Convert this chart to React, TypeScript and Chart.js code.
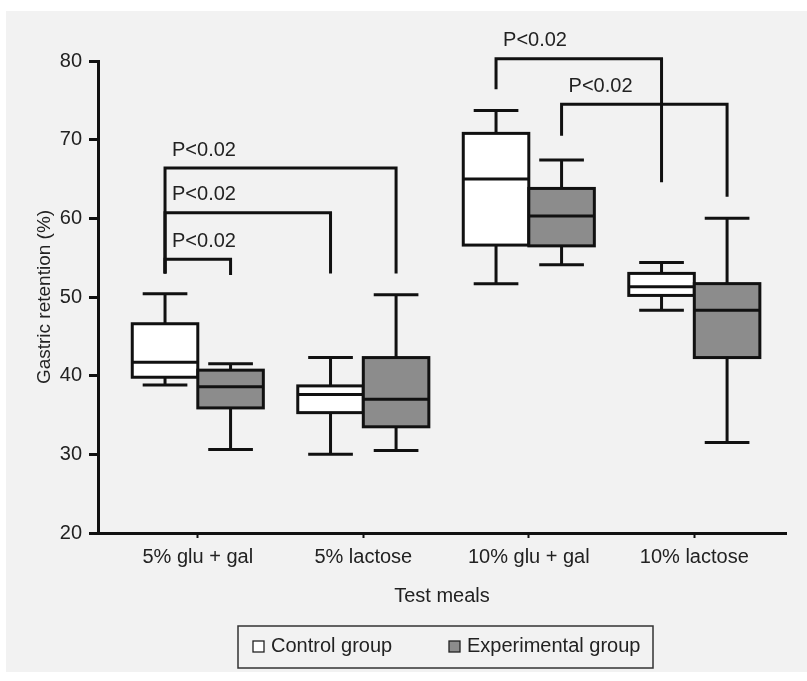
import React, { useEffect, useRef } from 'react';
import { Chart, registerables } from 'chart.js';

Chart.register(...registerables);

// ---------- data ----------
const categories = ['5% glu + gal', '5% lactose', '10% glu + gal', '10% lactose'];
const seriesNames = ['Control group', 'Experimental group'];
const yTickValues = [20, 30, 40, 50, 60, 70, 80];

const controlMin = [38.8, 30.0, 51.7, 48.3];
const controlQ1 = [39.8, 35.3, 56.6, 50.2];
const controlMedian = [41.7, 37.6, 65.0, 51.3];
const controlQ3 = [46.6, 38.7, 70.8, 53.0];
const controlMax = [50.4, 42.3, 73.7, 54.4];

const expMin = [30.6, 30.5, 54.1, 31.5];
const expQ1 = [35.9, 33.5, 56.5, 42.3];
const expMedian = [38.6, 37.0, 60.3, 48.3];
const expQ3 = [40.7, 42.3, 63.8, 51.7];
const expMax = [41.5, 50.3, 67.4, 60.0];

// significance brackets (group 0 = control, 1 = experimental)
const sigLabels = ['P<0.02', 'P<0.02', 'P<0.02', 'P<0.02', 'P<0.02'];
const sigLeftCat = [0, 0, 0, 2, 2];
const sigLeftGroup = [0, 0, 0, 0, 1];
const sigRightCat = [1, 1, 0, 3, 3];
const sigRightGroup = [1, 0, 1, 0, 1];
const sigLevel = [66.4, 60.7, 54.8, 80.3, 74.5];
const sigLeftEnd = [53.0, 53.0, 53.0, 76.4, 70.5];
const sigRightEnd = [53.0, 53.0, 52.8, 64.6, 62.75];

// ---------- style ----------
const FONT = "'Liberation Sans', Arial, sans-serif";
const TEXT = '#222222';
const LINE = '#111111';
const CONTROL_FILL = '#ffffff';
const EXP_FILL = '#8c8c8c';
const BOX_W = 0.396; // in category units
const CAP_HALF = 0.135;

const bgPlugin = {
  id: 'panelBg',
  beforeDraw(chart: any) {
    const { ctx, width, height } = chart;
    ctx.save();
    ctx.fillStyle = '#ffffff';
    ctx.fillRect(0, 0, width, height);
    ctx.fillStyle = '#f2f2f2';
    ctx.fillRect(6, 11, width - 6, height - 20);
    ctx.restore();
  },
};

function groupCenter(cat: number, group: number) {
  return cat + (group === 0 ? -BOX_W / 2 : BOX_W / 2);
}

const boxPlugin = {
  id: 'boxes',
  afterDraw(chart: any) {
    const { ctx } = chart;
    const xs = chart.scales.x;
    const ys = chart.scales.y;
    ctx.save();
    ctx.strokeStyle = LINE;
    ctx.lineWidth = 3;
    ctx.lineCap = 'butt';

    const drawBox = (c: number, mn: number, q1: number, md: number, q3: number, mx: number, fill: string) => {
      const l = xs.getPixelForValue(c - BOX_W / 2);
      const r = xs.getPixelForValue(c + BOX_W / 2);
      const cx = xs.getPixelForValue(c);
      const capL = xs.getPixelForValue(c - CAP_HALF);
      const capR = xs.getPixelForValue(c + CAP_HALF);
      const yMin = ys.getPixelForValue(mn);
      const yQ1 = ys.getPixelForValue(q1);
      const yMd = ys.getPixelForValue(md);
      const yQ3 = ys.getPixelForValue(q3);
      const yMax = ys.getPixelForValue(mx);
      ctx.beginPath();
      ctx.moveTo(cx, yQ3);
      ctx.lineTo(cx, yMax);
      ctx.moveTo(capL, yMax);
      ctx.lineTo(capR, yMax);
      ctx.moveTo(cx, yQ1);
      ctx.lineTo(cx, yMin);
      ctx.moveTo(capL, yMin);
      ctx.lineTo(capR, yMin);
      ctx.stroke();
      ctx.fillStyle = fill;
      ctx.fillRect(l, yQ3, r - l, yQ1 - yQ3);
      ctx.strokeRect(l, yQ3, r - l, yQ1 - yQ3);
      ctx.beginPath();
      ctx.moveTo(l, yMd);
      ctx.lineTo(r, yMd);
      ctx.stroke();
    };

    categories.forEach((_, i) => {
      drawBox(groupCenter(i, 0), controlMin[i], controlQ1[i], controlMedian[i], controlQ3[i], controlMax[i], CONTROL_FILL);
    });
    categories.forEach((_, i) => {
      drawBox(groupCenter(i, 1), expMin[i], expQ1[i], expMedian[i], expQ3[i], expMax[i], EXP_FILL);
    });

    ctx.font = `20px ${FONT}`;
    ctx.textAlign = 'left';
    ctx.textBaseline = 'middle';
    sigLabels.forEach((label, k) => {
      const lx = xs.getPixelForValue(groupCenter(sigLeftCat[k], sigLeftGroup[k]));
      const rx = xs.getPixelForValue(groupCenter(sigRightCat[k], sigRightGroup[k]));
      const yl = ys.getPixelForValue(sigLevel[k]);
      ctx.beginPath();
      ctx.moveTo(lx, ys.getPixelForValue(sigLeftEnd[k]));
      ctx.lineTo(lx, yl);
      ctx.lineTo(rx, yl);
      ctx.lineTo(rx, ys.getPixelForValue(sigRightEnd[k]));
      ctx.stroke();
      ctx.fillStyle = TEXT;
      ctx.fillText(label, lx + 7, yl - 18);
    });

    // legend
    const lgX = 238, lgY = 626, lgW = 415, lgH = 42;
    ctx.lineWidth = 1.5;
    ctx.strokeStyle = '#333333';
    ctx.strokeRect(lgX, lgY, lgW, lgH);
    const items = [
      { name: seriesNames[0], fill: CONTROL_FILL, sx: 253, tx: 271 },
      { name: seriesNames[1], fill: EXP_FILL, sx: 449, tx: 467 },
    ];
    items.forEach((it) => {
      ctx.fillStyle = it.fill;
      ctx.fillRect(it.sx, 641, 11, 11);
      ctx.lineWidth = 1.3;
      ctx.strokeStyle = '#222222';
      ctx.strokeRect(it.sx, 641, 11, 11);
      ctx.fillStyle = TEXT;
      ctx.font = `20px ${FONT}`;
      ctx.textBaseline = 'middle';
      ctx.fillText(it.name, it.tx, 646);
    });
    ctx.restore();
  },
};

export default function App() {
  const ref = useRef<HTMLCanvasElement | null>(null);
  useEffect(() => {
    if (!ref.current) return;
    const chart = new Chart(ref.current, {
      type: 'scatter',
      data: {
        datasets: [
          {
            label: seriesNames[0],
            data: controlMedian.map((v, i) => ({ x: groupCenter(i, 0), y: v })),
            pointRadius: 0,
            showLine: false,
          },
          {
            label: seriesNames[1],
            data: expMedian.map((v, i) => ({ x: groupCenter(i, 1), y: v })),
            pointRadius: 0,
            showLine: false,
          },
        ],
      },
      options: {
        animation: false,
        responsive: true,
        maintainAspectRatio: false,
        events: [],
        layout: { padding: { top: 61, right: 21, bottom: 0, left: 0 } },
        plugins: {
          legend: { display: false },
          tooltip: { enabled: false },
        },
        scales: {
          x: {
            type: 'linear',
            min: -0.603,
            max: 3.554,
            afterFit: (s: any) => {
              s.height = 148;
            },
            afterBuildTicks: (s: any) => {
              s.ticks = categories.map((_, i) => ({ value: i }));
            },
            ticks: {
              autoSkip: false,
              maxRotation: 0,
              padding: 7,
              color: TEXT,
              font: { family: FONT, size: 20 },
              callback: (v: any) => categories[Math.round(Number(v))] ?? '',
            },
            grid: {
              display: true,
              drawOnChartArea: false,
              drawTicks: true,
              tickLength: 5,
              tickWidth: 2,
              tickColor: LINE,
            },
            border: { display: true, color: LINE, width: 3 },
            title: {
              display: true,
              text: 'Test meals',
              color: TEXT,
              font: { family: FONT, size: 20 },
              padding: { top: 0, bottom: 73 },
            },
          },
          y: {
            type: 'linear',
            min: 20,
            max: 80,
            afterFit: (s: any) => {
              s.width = 98;
            },
            afterBuildTicks: (s: any) => {
              s.ticks = yTickValues.map((v) => ({ value: v }));
            },
            ticks: {
              padding: 7,
              color: TEXT,
              font: { family: FONT, size: 20 },
            },
            grid: {
              display: true,
              drawOnChartArea: false,
              drawTicks: true,
              tickLength: 9,
              tickWidth: 3,
              tickColor: LINE,
            },
            border: { display: true, color: LINE, width: 3 },
            title: {
              display: true,
              text: 'Gastric retention (%)',
              color: TEXT,
              font: { family: FONT, size: 19 },
              padding: { top: 33, bottom: 0 },
            },
          },
        },
      },
      plugins: [bgPlugin, boxPlugin],
    });
    return () => chart.destroy();
  }, []);

  return (
    <div style={{ position: 'absolute', left: 0, top: 0, width: 807, height: 681 }}>
      <canvas ref={ref} />
    </div>
  );
}
